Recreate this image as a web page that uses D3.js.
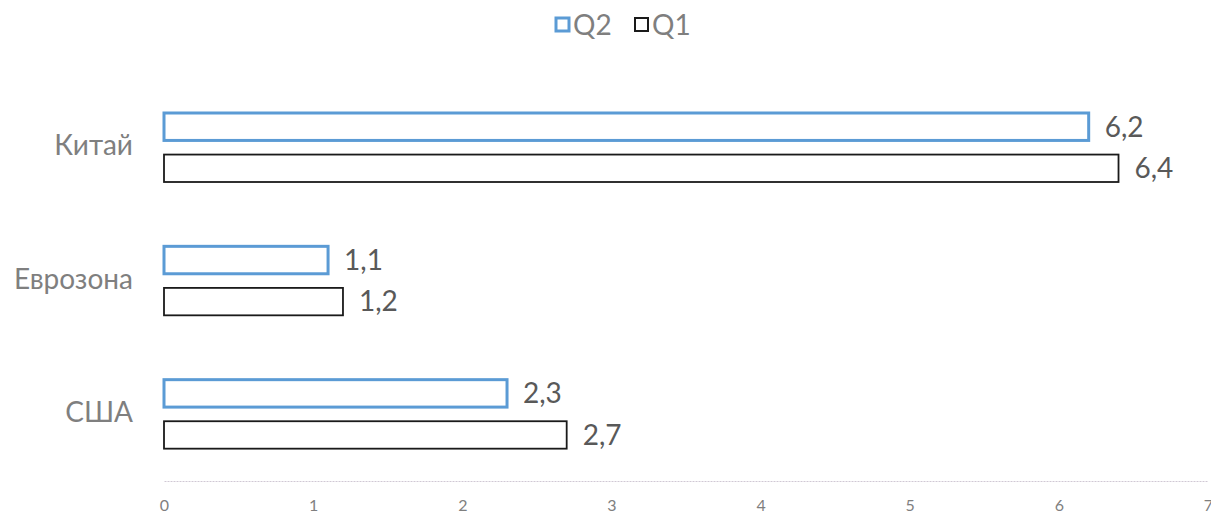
<!DOCTYPE html>
<html><head><meta charset="utf-8">
<script src="https://cdn.jsdelivr.net/npm/d3@7"></script>
<style>body{margin:0;background:#fff}svg{display:block}</style>
</head><body>
<svg id="c" width="1211" height="517"></svg>
<script>
const categories = ["Китай", "Еврозона", "США"];
const seriesNames = ["Q2", "Q1"];
const q2Values = [6.2, 1.1, 2.3];
const q1Values = [6.4, 1.2, 2.7];
const xTicks = [0, 1, 2, 3, 4, 5, 6, 7];

const colors = {Q2: "#5b9bd5", Q1: "#1a1a1a"};
const strokeW = {Q2: 3, Q1: 1.8};
const font = "Lato, 'Open Sans', sans-serif";

const svg = d3.select("#c");
const x = d3.scaleLinear().domain([0, 7]).range([164, 1208]);
const y = d3.scaleBand().domain(categories).range([81, 481]).paddingInner(0).paddingOuter(0);
const inner = d3.scaleBand().domain(seriesNames).range([32, 133 - 32]).paddingInner(0.34);

const data = categories.map((c, i) => ({cat: c, Q2: q2Values[i], Q1: q1Values[i]}));
const fmt = v => String(v).replace(".", ",");

// axis
const axis = d3.axisBottom(x).tickValues(xTicks).tickSize(0).tickPadding(19).tickFormat(d => d);
const ag = svg.append("g").attr("transform", "translate(0,481)").call(axis);
ag.select(".domain").attr("stroke", "#d0c8d4").attr("stroke-dasharray", "2,1").attr("stroke-width", 1);
ag.selectAll("text").attr("font-family", font).attr("font-size", 16).attr("fill", "#7f7f7f");

// bars
const groups = svg.selectAll(".grp").data(data).enter().append("g")
  .attr("transform", d => `translate(0,${y(d.cat)})`);
seriesNames.forEach(s => {
  groups.append("rect")
    .attr("x", x(0))
    .attr("y", inner(s))
    .attr("width", d => x(d[s]) - x(0))
    .attr("height", inner.bandwidth())
    .attr("fill", "#fff")
    .attr("stroke", colors[s])
    .attr("stroke-width", strokeW[s]);
  groups.append("text")
    .attr("x", d => x(d[s]) + 16)
    .attr("y", inner(s) + inner.bandwidth() / 2)
    .attr("dy", "0.35em")
    .attr("font-family", font).attr("font-size", 28).attr("fill", "#595959")
    .text(d => fmt(d[s]));
});

// category labels
svg.selectAll(".cat").data(categories).enter().append("text")
  .attr("x", 133).attr("y", d => y(d) + y.bandwidth() / 2 - 2)
  .attr("dy", "0.35em").attr("text-anchor", "end")
  .attr("font-family", font).attr("font-size", 28).attr("fill", "#7f7f7f")
  .text(d => d);

// legend
const legendItems = [{name: "Q2", x: 555}, {name: "Q1", x: 634}];
const lg = svg.selectAll(".lg").data(legendItems).enter().append("g")
  .attr("transform", d => `translate(${d.x},17)`);
lg.append("rect").attr("x", 1).attr("y", 1).attr("width", 13).attr("height", 13)
  .attr("fill", "#fff").attr("stroke", d => colors[d.name]).attr("stroke-width", d => d.name === "Q2" ? 3 : 2);
lg.append("text").attr("x", 18).attr("y", 8).attr("dy", "0.35em")
  .attr("font-family", font).attr("font-size", 28).attr("fill", "#7f7f7f")
  .text(d => d.name);
</script>
</body></html>
